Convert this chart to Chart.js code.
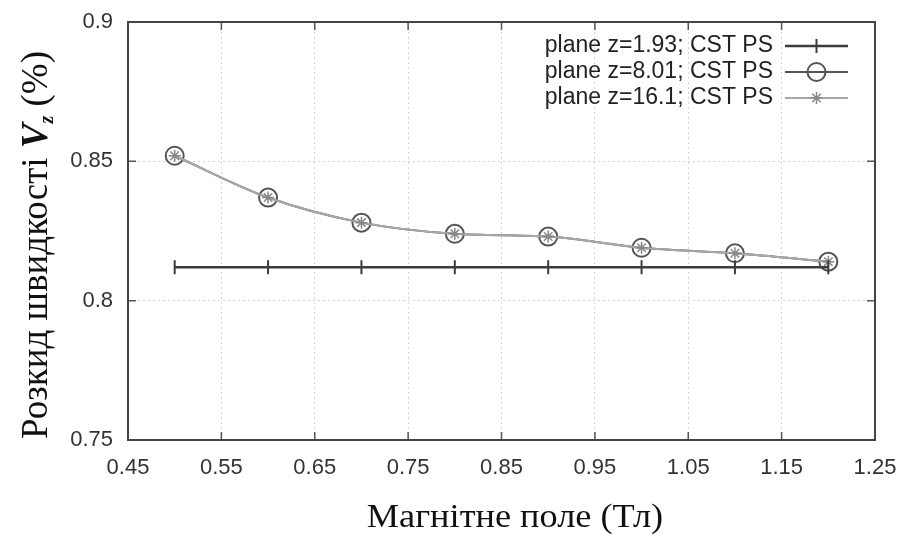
<!DOCTYPE html>
<html>
<head>
<meta charset="utf-8">
<script src="https://cdn.jsdelivr.net/npm/chart.js@4.4.0/dist/chart.umd.min.js"></script>
<style>
  html, body { margin: 0; padding: 0; background: #fff; }
  #wrap { width: 904px; height: 537px; position: relative; }
</style>
</head>
<body>
<div id="wrap"><canvas id="chart" width="904" height="537"></canvas></div>
<script>
// Дані з графіка
const fieldValues = [0.5, 0.6, 0.7, 0.8, 0.9, 1.0, 1.1, 1.2];
const plane193 = [0.812, 0.812, 0.812, 0.812, 0.812, 0.812, 0.812, 0.812];
const plane801 = [0.852, 0.837, 0.828, 0.824, 0.823, 0.819, 0.817, 0.814];
const plane161 = [0.852, 0.837, 0.828, 0.824, 0.823, 0.819, 0.817, 0.814];
const seriesLabels = ['plane z=1.93; CST PS', 'plane z=8.01; CST PS', 'plane z=16.1; CST PS'];
const xTicks = [0.45, 0.55, 0.65, 0.75, 0.85, 0.95, 1.05, 1.15, 1.25];
const xTickLabels = ['0.45', '0.55', '0.65', '0.75', '0.85', '0.95', '1.05', '1.15', '1.25'];
const yTicks = [0.75, 0.8, 0.85, 0.9];
const yTickLabels = ['0.75', '0.8', '0.85', '0.9'];

const toPoints = vals => vals.map((v, i) => ({ x: fieldValues[i], y: v }));

// Рамка, внутрішні засічки, легенда та підписи осей (стиль gnuplot)
const gnuplotFrame = {
  id: 'gnuplotFrame',
  afterDatasetsDraw(chart) {
    const { ctx, chartArea: a, scales } = chart;
    ctx.save();
    // засічки всередину з усіх боків
    ctx.strokeStyle = '#555';
    ctx.lineWidth = 1.5;
    xTicks.forEach(v => {
      const px = scales.x.getPixelForValue(v);
      ctx.beginPath();
      ctx.moveTo(px, a.bottom); ctx.lineTo(px, a.bottom - 8);
      ctx.moveTo(px, a.top); ctx.lineTo(px, a.top + 8);
      ctx.stroke();
    });
    yTicks.forEach(v => {
      const py = scales.y.getPixelForValue(v);
      ctx.beginPath();
      ctx.moveTo(a.left, py); ctx.lineTo(a.left + 8, py);
      ctx.moveTo(a.right, py); ctx.lineTo(a.right - 8, py);
      ctx.stroke();
    });
    // рамка
    ctx.strokeStyle = '#444';
    ctx.lineWidth = 2;
    ctx.strokeRect(a.left, a.top, a.right - a.left, a.bottom - a.top);

    // легенда
    const textRight = a.right - 102;
    const lineL = a.right - 90, lineR = a.right - 27, mid = (lineL + lineR) / 2;
    ctx.font = '23px "Liberation Sans", Arial, sans-serif';
    ctx.textAlign = 'right';
    ctx.textBaseline = 'middle';
    seriesLabels.forEach((lab, i) => {
      const ly = a.top + 24 + i * 26;
      const ds = chart.data.datasets[i];
      ctx.fillStyle = '#222';
      ctx.fillText(lab, textRight, ly);
      ctx.strokeStyle = ds.borderColor;
      ctx.lineWidth = ds.borderWidth;
      ctx.beginPath();
      ctx.moveTo(lineL, ly); ctx.lineTo(lineR, ly);
      ctx.stroke();
      ctx.fillStyle = 'rgba(0,0,0,0)';
      ctx.strokeStyle = ds.pointBorderColor;
      ctx.lineWidth = ds.pointBorderWidth;
      Chart.helpers.drawPoint(ctx, {
        pointStyle: ds.pointStyle,
        rotation: ds.pointRotation || 0,
        radius: ds.pointRadius,
        borderWidth: ds.pointBorderWidth
      }, mid, ly);
    });

    // підпис осі X (трохи розтягнутий по горизонталі, як в оригіналі)
    ctx.fillStyle = '#111';
    ctx.textAlign = 'center';
    ctx.textBaseline = 'alphabetic';
    ctx.font = '33px "Liberation Serif", "Times New Roman", serif';
    ctx.save();
    ctx.translate(515, 527);
    ctx.scale(1.1, 1);
    ctx.fillText('Магнітне поле (Тл)', 0, 0);
    ctx.restore();

    // підпис осі Y з курсивною V та індексом z
    ctx.translate(47, 245);
    ctx.rotate(-Math.PI / 2);
    const f = '37px "Liberation Serif", "Times New Roman", serif';
    const fi = 'italic bold 37px "Liberation Serif", "Times New Roman", serif';
    const fs = 'italic bold 20px "Liberation Serif", "Times New Roman", serif';
    const parts = [['Розкид швидкості ', f, 0], ['V', fi, 0], ['z', fs, 6], [' (%)', f, 0]];
    let total = 0;
    parts.forEach(p => { ctx.font = p[1]; total += ctx.measureText(p[0]).width; });
    let x = -total / 2;
    ctx.textAlign = 'left';
    parts.forEach(p => {
      ctx.font = p[1];
      ctx.fillText(p[0], x, p[2]);
      x += ctx.measureText(p[0]).width;
    });
    ctx.restore();
  }
};

new Chart(document.getElementById('chart'), {
  type: 'scatter',
  data: {
    datasets: [
      {
        label: seriesLabels[0],
        data: toPoints(plane193),
        showLine: true,
        borderColor: '#3c3c3c',
        borderWidth: 2.5,
        pointStyle: 'line',
        pointRotation: 90,
        pointRadius: 7,
        pointBorderColor: '#3c3c3c',
        pointBorderWidth: 2,
        order: 1
      },
      {
        label: seriesLabels[1],
        data: toPoints(plane801),
        showLine: true,
        borderColor: '#555',
        borderWidth: 2,
        cubicInterpolationMode: 'monotone',
        pointStyle: 'circle',
        pointRadius: 9,
        pointBackgroundColor: 'rgba(0,0,0,0)',
        pointBorderColor: '#555',
        pointBorderWidth: 2,
        order: 3
      },
      {
        label: seriesLabels[2],
        data: toPoints(plane161),
        showLine: true,
        borderColor: '#a8a8a8',
        borderWidth: 2,
        cubicInterpolationMode: 'monotone',
        pointStyle: 'star',
        pointRadius: 6,
        pointBorderColor: '#888',
        pointBorderWidth: 1.5,
        order: 2
      }
    ]
  },
  options: {
    responsive: false,
    animation: false,
    layout: { padding: { top: 22, right: 29, left: 0, bottom: 0 } },
    plugins: { legend: { display: false }, tooltip: { enabled: false } },
    scales: {
      x: {
        type: 'linear',
        min: 0.45,
        max: 1.25,
        afterBuildTicks: s => { s.ticks = xTicks.map(v => ({ value: v })); },
        afterFit: s => { s.height = 97; s.paddingLeft = 0; s.paddingRight = 0; },
        grid: { color: '#d4d4d4', lineWidth: 1, drawTicks: false },
        border: { display: false, dash: [2, 3] },
        ticks: {
          padding: 15,
          color: '#333',
          font: { family: '"Liberation Sans", Arial, sans-serif', size: 22 },
          callback: (v, i) => xTickLabels[i]
        }
      },
      y: {
        type: 'linear',
        min: 0.75,
        max: 0.9,
        afterBuildTicks: s => { s.ticks = yTicks.map(v => ({ value: v })); },
        afterFit: s => { s.width = 128; s.paddingTop = 0; s.paddingBottom = 0; },
        grid: { color: '#d4d4d4', lineWidth: 1, drawTicks: false },
        border: { display: false, dash: [2, 3] },
        ticks: {
          padding: 15,
          color: '#333',
          font: { family: '"Liberation Sans", Arial, sans-serif', size: 22 },
          callback: (v, i) => yTickLabels[i]
        }
      }
    }
  },
  plugins: [gnuplotFrame]
});
</script>
</body>
</html>
